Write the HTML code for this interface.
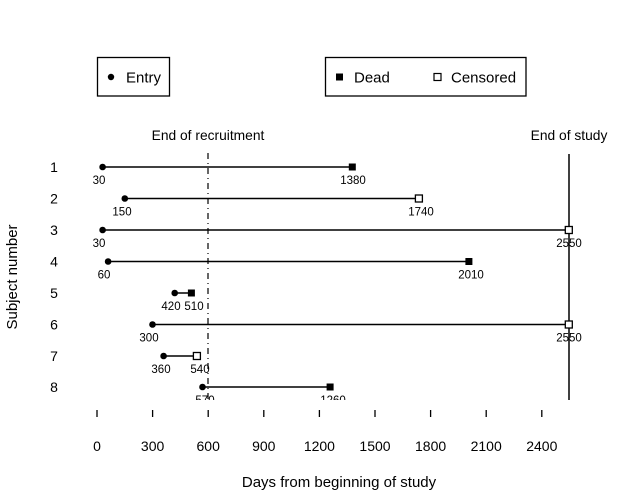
<!DOCTYPE html>
<html><head><meta charset="utf-8"><style>
html,body{margin:0;padding:0;background:#fff;}
svg{display:block;font-family:"Liberation Sans",sans-serif;}
</style></head><body>
<svg width="640" height="498" viewBox="0 0 640 498" xmlns="http://www.w3.org/2000/svg">
<defs><clipPath id="c"><rect x="80" y="140" width="560" height="260"/></clipPath></defs>
<rect x="97.5" y="57.5" width="72" height="38.5" fill="none" stroke="#000" stroke-width="1.3"/>
<circle cx="111" cy="77" r="3.2" fill="#000"/>
<text x="126" y="82.5" font-size="15">Entry</text>
<rect x="325.5" y="57.5" width="200.5" height="38.5" fill="none" stroke="#000" stroke-width="1.3"/>
<rect x="336" y="73.5" width="7" height="7" fill="#000"/>
<text x="354" y="82.5" font-size="15">Dead</text>
<rect x="434" y="73.5" width="7" height="7" fill="#fff" stroke="#000" stroke-width="1.2"/>
<text x="451" y="82.5" font-size="15">Censored</text>
<text x="208" y="140" font-size="13.8" text-anchor="middle">End of recruitment</text>
<text x="569" y="140" font-size="13.8" text-anchor="middle">End of study</text>
<g font-size="14" text-anchor="middle">
<text x="54" y="172">1</text><text x="54" y="203.5">2</text><text x="54" y="235">3</text><text x="54" y="266.5">4</text>
<text x="54" y="298">5</text><text x="54" y="329.5">6</text><text x="54" y="361">7</text><text x="54" y="392">8</text>
</g>
<text transform="translate(17,277) rotate(-90)" font-size="15" text-anchor="middle">Subject number</text>
<g clip-path="url(#c)">
<line x1="208" y1="153" x2="208" y2="400" stroke="#000" stroke-width="1.2" stroke-dasharray="6,4,1,4"/>
<line x1="569" y1="154" x2="569" y2="400" stroke="#000" stroke-width="1.5"/>
<g stroke="#000" stroke-width="1.5">
<line x1="102.6" y1="167" x2="352.3" y2="167"/>
<line x1="124.8" y1="198.5" x2="418.9" y2="198.5"/>
<line x1="102.6" y1="230" x2="568.8" y2="230"/>
<line x1="108.1" y1="261.5" x2="468.9" y2="261.5"/>
<line x1="174.7" y1="293" x2="191.4" y2="293"/>
<line x1="152.5" y1="324.5" x2="568.8" y2="324.5"/>
<line x1="163.6" y1="356" x2="196.9" y2="356"/>
<line x1="202.5" y1="387" x2="330.1" y2="387"/>
</g>
<g fill="#000">
<circle cx="102.6" cy="167" r="3.3"/><circle cx="124.8" cy="198.5" r="3.3"/><circle cx="102.6" cy="230" r="3.3"/>
<circle cx="108.1" cy="261.5" r="3.3"/><circle cx="174.7" cy="293" r="3.3"/><circle cx="152.5" cy="324.5" r="3.3"/>
<circle cx="163.6" cy="356" r="3.3"/><circle cx="202.5" cy="387" r="3.3"/>
<rect x="348.8" y="163.5" width="7" height="7"/><rect x="465.4" y="258" width="7" height="7"/>
<rect x="187.9" y="289.5" width="7" height="7"/><rect x="326.6" y="383.5" width="7" height="7"/>
</g>
<g fill="#fff" stroke="#000" stroke-width="1.3">
<rect x="415.4" y="195" width="7" height="7"/><rect x="565.3" y="226.5" width="7" height="7"/>
<rect x="565.3" y="321" width="7" height="7"/><rect x="193.4" y="352.5" width="7" height="7"/>
</g>
<g font-size="11.5" text-anchor="middle">
<text x="99" y="184">30</text><text x="353" y="184">1380</text>
<text x="122" y="215.5">150</text><text x="421" y="215.5">1740</text>
<text x="99" y="247">30</text><text x="569" y="247">2550</text>
<text x="104" y="278.5">60</text><text x="471" y="278.5">2010</text>
<text x="171" y="310">420</text><text x="194" y="310">510</text>
<text x="149" y="341.5">300</text><text x="569" y="341.5">2550</text>
<text x="161" y="373">360</text><text x="200" y="373">540</text>
<text x="205" y="404">570</text><text x="333" y="404">1260</text>
</g>
</g>
<g stroke="#000" stroke-width="1.3">
<line x1="97" y1="410" x2="97" y2="417"/><line x1="152.6" y1="410" x2="152.6" y2="417"/>
<line x1="208.2" y1="410" x2="208.2" y2="417"/><line x1="263.8" y1="410" x2="263.8" y2="417"/>
<line x1="319.4" y1="410" x2="319.4" y2="417"/><line x1="375" y1="410" x2="375" y2="417"/>
<line x1="430.6" y1="410" x2="430.6" y2="417"/><line x1="486.2" y1="410" x2="486.2" y2="417"/>
<line x1="541.8" y1="410" x2="541.8" y2="417"/>
</g>
<g font-size="14" text-anchor="middle">
<text x="97" y="451">0</text><text x="152.6" y="451">300</text><text x="208.2" y="451">600</text>
<text x="263.8" y="451">900</text><text x="319.4" y="451">1200</text><text x="375" y="451">1500</text>
<text x="430.6" y="451">1800</text><text x="486.2" y="451">2100</text><text x="541.8" y="451">2400</text>
</g>
<text x="339" y="487" font-size="15" text-anchor="middle">Days from beginning of study</text>
</svg>
</body></html>
